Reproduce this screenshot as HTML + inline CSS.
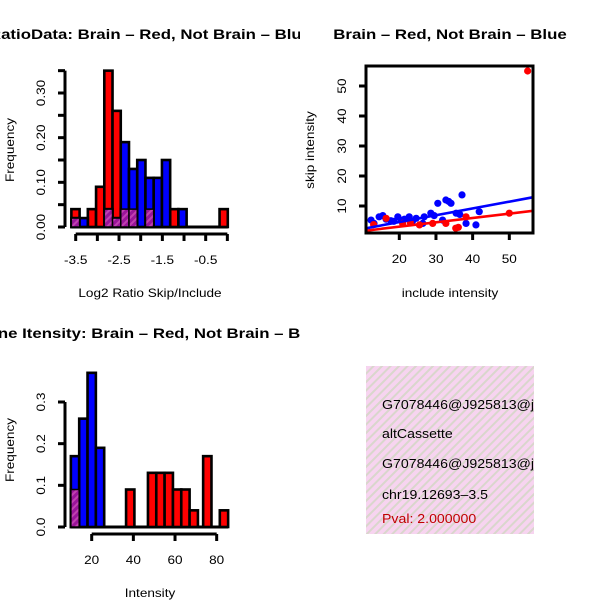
<!DOCTYPE html>
<html><head><meta charset="utf-8"><style>
html,body{margin:0;padding:0;background:#fff;}
svg{display:block;font-family:"Liberation Sans",Arial,sans-serif;}
</style></head><body>
<svg id="s" width="600" height="600" viewBox="0 0 600 600" xmlns="http://www.w3.org/2000/svg">
<defs>
<clipPath id="q1"><rect x="0" y="0" width="300" height="300"/></clipPath>
<clipPath id="q2"><rect x="300" y="0" width="300" height="300"/></clipPath>
<clipPath id="q3"><rect x="0" y="300" width="300" height="300"/></clipPath>
<clipPath id="q4"><rect x="366" y="366" width="168" height="168"/></clipPath>
<clipPath id="sc"><rect x="366" y="66" width="167" height="167"/></clipPath>
<pattern id="pp" width="5" height="5" patternUnits="userSpaceOnUse" patternTransform="rotate(45)">
<rect width="5" height="5" fill="#9a149a"/><rect width="2" height="5" fill="#c040b0"/></pattern>
<pattern id="pink" width="6" height="6" patternUnits="userSpaceOnUse" patternTransform="rotate(45)">
<rect width="6" height="6" fill="#f7d4f0"/><rect width="2" height="6" fill="#d9d6cc"/></pattern>
</defs>
<g id="p1" clip-path="url(#q1)"></g>
<g id="p2" clip-path="url(#q2)"></g>
<g id="p3" clip-path="url(#q3)"></g>
<g id="p4">
<rect x="366" y="366" width="168" height="168" fill="url(#pink)"/>
<g clip-path="url(#q4)" font-size="12.5">
<text x="382" y="409">G7078446@J925813@j_</text>
<text x="382" y="438">altCassette</text>
<text x="382" y="468">G7078446@J925813@j_</text>
<text x="382" y="499">chr19.12693&#8211;3.5</text>
<text x="382" y="523" fill="#c00000">Pval: 2.000000</text>
</g></g>
</svg>
<script>
// Panel 1: log2 ratio histogram
const h1Start=-3.6, h1Width=0.19;
const h1Red=[0.04,0,0.04,0.09,0.35,0.26,0.04,0.04,0,0.04,0,0,0.04,0,0,0,0,0,0.04];
const h1Blue=[0.02,0.02,0,0,0.04,0.02,0.19,0.13,0.15,0.11,0.11,0.15,0,0.04,0,0,0,0,0];
const h1XTicks=[-3.5,-3,-2.5,-2,-1.5,-1,-0.5,0];
const h1XLabels=["-3.5","","-2.5","","-1.5","","-0.5",""];
const h1YTicks=[0,0.05,0.1,0.15,0.2,0.25,0.3,0.35];
const h1YLabels=["0.00","","0.10","","0.20","","0.30",""];
// Panel 2: scatter
const blueX=[12.3,14.5,16.4,17.7,19.6,21.4,22.7,24.6,26.8,28.6,30.5,32.7,34.1,37.1,38.2,40.9,41.8,35.5,31.8,26.4,13.1,18.5,23.6,15.5,20.5,29.5,33.5,36.5];
const blueY=[5.3,6.4,5.6,5.1,6.4,5.6,6.4,5.9,6.4,7.6,10.9,12,10.9,13.7,4.2,3.7,8.1,7.6,5.3,4.2,4.2,4.9,4.9,6.8,5.2,6.8,11.5,7.2];
const redX=[55,50,36.1,25.5,29.1,32.7,35.4,38.2,16.4,20.9,13,23];
const redY=[55,7.6,2.9,3.7,4.2,4.2,2.6,6.4,5.9,4.2,3.8,4.5];
const fitIntercept=[0.2,0.1]; // red, blue
const fitSlope=[0.145,0.227];
const scXTicks=[20,30,40,50], scYTicks=[10,20,30,40,50];
// Panel 3: intensity histogram
const h3RedLeft=[10,36.5,47,51,55,59,63,67,73.5,81.5];
const h3RedH=[0.09,0.09,0.13,0.13,0.13,0.09,0.09,0.04,0.17,0.04];
const h3BlueLeft=[10,14,18,22];
const h3BlueH=[0.17,0.26,0.37,0.19];
const h3Width=4;
const h3XTicks=[20,40,60,80], h3YTicks=[0,0.1,0.2,0.3];
const h3YLabels=["0.0","0.1","0.2","0.3"];

const NS="http://www.w3.org/2000/svg";
function mk(p,tag,at,txt){const e=document.createElementNS(NS,tag);for(const k in at)e.setAttribute(k,at[k]);if(txt!==undefined)e.textContent=txt;p.appendChild(e);return e;}

function bars(g,x,y,lefts,hs,w,fill,name){
  lefts.forEach((l,i)=>{if(hs[i]<=0)return;
    const r=mk(g,'rect',{x:x(l),y:y(hs[i]),width:x(l+w)-x(l),height:y(0)-y(hs[i]),fill:fill,stroke:'#000','stroke-width':2.6});
    
    });
}
function overlap(g,x,y,rl,rh,bl,bh,w){
  rl.forEach((a,i)=>{bl.forEach((b,j)=>{const lo=Math.max(a,b),hi=Math.min(a+w,b+w);const h=Math.min(rh[i],bh[j]);
    if(hi-lo>w*0.5&&h>0){const r=mk(g,'rect',{x:x(lo),y:y(h),width:x(hi)-x(lo),height:y(0)-y(h),fill:'url(#pp)',stroke:'#000','stroke-width':1.5});
    
    }});});
}
function baseline(g,x,y,a,b){const l=mk(g,'line',{x1:x(a),x2:x(b),y1:y(0),y2:y(0),stroke:'#000','stroke-width':3});
  
  }
function yaxis(g,ax,y,ticks,labels,rot,name){
  const a=mk(g,'line',{x1:ax,x2:ax,y1:y(ticks[0]),y2:y(ticks[ticks.length-1]),stroke:'#000','stroke-width':3});
  
  
  ticks.forEach((t,i)=>{mk(g,'line',{x1:ax,x2:ax-7,y1:y(t),y2:y(t),stroke:'#000','stroke-width':3});
    if(labels[i]){const tx=mk(g,'text',{x:ax-20,y:y(t),'font-size':12,'text-anchor':'middle',transform:`rotate(-90 ${ax-20} ${y(t)})`},labels[i]);
      
      }});
}
function xaxis(g,ay,x,ticks,labels,name){
  const a=mk(g,'line',{x1:x(ticks[0]),x2:x(ticks[ticks.length-1]),y1:ay,y2:ay,stroke:'#000','stroke-width':3});
  
  
  ticks.forEach((t,i)=>{mk(g,'line',{x1:x(t),x2:x(t),y1:ay,y2:ay+7,stroke:'#000','stroke-width':3});
    if(labels[i]){const tx=mk(g,'text',{x:x(t),y:ay+30,'font-size':12,'text-anchor':'middle'},labels[i]);
      
      }});
}
function label(g,txt,x,y,opt,name){const t=mk(g,'text',Object.assign({x:x,y:y,'text-anchor':'middle','font-size':12},opt||{}),txt);
  
  
  return t;}

// Panel 1
{const g=document.getElementById('p1');
 const x=v=>75.7+(v+3.5)*43.33, y=v=>227-v*446.7;
 const lefts=h1Red.map((_,i)=>h1Start+i*h1Width);
 baseline(g,x,y,h1Start,h1Start+h1Red.length*h1Width);
 bars(g,x,y,lefts,h1Red,h1Width,'#ff0000','red-bar');
 bars(g,x,y,lefts,h1Blue,h1Width,'#0000ff','blue-bar');
 overlap(g,x,y,lefts,h1Red,lefts,h1Blue,h1Width);
 yaxis(g,65,y,h1YTicks,h1YLabels,true,'y-axis');
 xaxis(g,234,x,h1XTicks,h1XLabels,'x-axis');
 label(g,'RatioData: Brain \u2013 Red, Not Brain \u2013 Blue',150,39,{'font-size':14,'font-weight':'bold',class:'ttl'},'ratio-title');
 label(g,'Log2 Ratio Skip/Include',150,297,{},'x-axis-title');
 label(g,'Frequency',14,150,{transform:'rotate(-90 14 150)'},'y-axis-title');}

// Panel 2
{const g=document.getElementById('p2');
 const x=v=>399.3+(v-20)*3.667, y=v=>206-(v-10)*3;
 const pts=mk(g,'g',{'clip-path':'url(#sc)'});
 blueX.forEach((v,i)=>{const c=mk(pts,'circle',{cx:x(v),cy:y(blueY[i]),r:3.6,fill:'#0000ff'});
   
   });
 redX.forEach((v,i)=>{const c=mk(pts,'circle',{cx:x(v),cy:y(redY[i]),r:3.6,fill:'#ff0000'});
   
   });
 ['#ff0000','#0000ff'].forEach((col,k)=>{const l=mk(pts,'line',{x1:x(10),x2:x(58),y1:y(fitIntercept[k]+fitSlope[k]*10),y2:y(fitIntercept[k]+fitSlope[k]*58),stroke:col,'stroke-width':2.6});
   
   });
 const b=mk(g,'rect',{x:366,y:66,width:167,height:167,fill:'none',stroke:'#000','stroke-width':3});
 
 
 scXTicks.forEach(t=>{mk(g,'line',{x1:x(t),x2:x(t),y1:233,y2:240,stroke:'#000','stroke-width':3});
   const tx=mk(g,'text',{x:x(t),y:263,'font-size':12,'text-anchor':'middle'},String(t));
   
   });
 scYTicks.forEach(t=>{mk(g,'line',{x1:366,x2:359,y1:y(t),y2:y(t),stroke:'#000','stroke-width':3});
   const tx=mk(g,'text',{x:346,y:y(t),'font-size':12,'text-anchor':'middle',transform:`rotate(-90 346 ${y(t)})`},String(t));
   
   });
 label(g,'Brain \u2013 Red, Not Brain \u2013 Blue',450,39,{'font-size':14,'font-weight':'bold',class:'ttl'},'scatter-title');
 label(g,'include intensity',450,297,{},'x-axis-title');
 label(g,'skip intensity',314,150,{transform:'rotate(-90 314 150)'},'y-axis-title');}

// Panel 3
{const g=document.getElementById('p3');
 const x=v=>91.7+(v-20)*2.083, y=v=>527-v*416.7;
 baseline(g,x,y,10,85.5);
 bars(g,x,y,h3RedLeft,h3RedH,h3Width,'#ff0000','red-bar');
 bars(g,x,y,h3BlueLeft,h3BlueH,h3Width,'#0000ff','blue-bar');
 overlap(g,x,y,h3RedLeft,h3RedH,h3BlueLeft,h3BlueH,h3Width);
 yaxis(g,65,y,h3YTicks,h3YLabels,true,'y-axis');
 xaxis(g,534,x,h3XTicks,h3XTicks.map(String),'x-axis');
 label(g,'Gene Itensity: Brain \u2013 Red, Not Brain \u2013 Blue',150,338,{'font-size':14,'font-weight':'bold',class:'ttl'},'intensity-title');
 label(g,'Intensity',150,597,{},'x-axis-title');
 label(g,'Frequency',14,450,{transform:'rotate(-90 14 450)'},'y-axis-title');}

// widen text to match the reference's wider font
document.querySelectorAll('#s text').forEach(t=>{
  const f=t.getAttribute('class')==='ttl'?1.2:1.13;
  const w=t.getComputedTextLength();
  if(w>0){t.setAttribute('textLength',(w*f).toFixed(1));t.setAttribute('lengthAdjust','spacingAndGlyphs');}
});
</script>
</body></html>
